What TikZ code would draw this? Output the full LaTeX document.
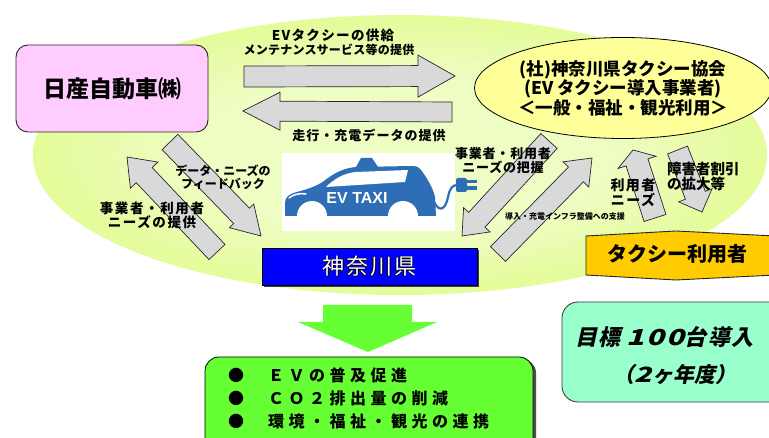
\documentclass[tikz,border=0pt]{standalone}
\usepackage{fontspec}
\setmainfont{Noto Sans CJK JP}
\newfontfamily\evfont{Liberation Sans}
\newfontfamily\jpslant{Noto Sans CJK JP}[FakeSlant=0.22]
\usetikzlibrary{calc,shadows,shapes.geometric}

\definecolor{limeout}{RGB}{216,250,100}
\definecolor{limein}{RGB}{238,253,196}
\definecolor{pinkbox}{RGB}{255,204,255}
\definecolor{ellyellow}{RGB}{255,255,153}
\definecolor{arrowgray}{RGB}{217,217,217}
\definecolor{carblue}{RGB}{46,110,182}
\definecolor{prefblue}{RGB}{0,0,255}
\definecolor{useryellow}{RGB}{255,204,0}
\definecolor{brightgreen}{RGB}{102,255,51}
\definecolor{mint}{RGB}{153,255,204}

\pgfdeclareradialshading{fieldshade}{\pgfpoint{0bp}{0bp}}{color(0bp)=(limein); color(14bp)=(limein); color(38bp)=(limeout); color(50bp)=(limeout)}

% bold Japanese at a given size / baseline skip
\newcommand\jpb[2]{\fontsize{#1}{#2}\selectfont\bfseries}
% tracking in percent of the font size
\newcommand\spaced[1]{\addfontfeature{LetterSpace=#1}}
% white lettering with a thin black rim
\newcommand\outlinedtext[1]{{\leavevmode
  \rlap{\color{black}\kern-0.7pt#1}\rlap{\color{black}\kern0.7pt#1}%
  \rlap{\color{black}\raisebox{0.7pt}{#1}}\rlap{\color{black}\raisebox{-0.7pt}{#1}}%
  \color{white}#1}}

\tikzset{
  grayarrow/.style={fill=arrowgray, draw=black!85, line width=0.7pt, line join=miter},
  lbl/.style={inner sep=0pt, align=center},
}

% block arrow: tail, tip, body half width, head half width, head length
\newcommand\blockarrow[5]{%
  \coordinate (ba-base) at ($(#2)!#5!(#1)$);
  \draw[grayarrow] ($(#1)!#3!90:(#2)$) -- ($(ba-base)!#3!90:(#2)$)
    -- ($(ba-base)!#4!90:(#2)$) -- (#2) -- ($(ba-base)!#4!-90:(#2)$)
    -- ($(ba-base)!#3!-90:(#2)$) -- ($(#1)!#3!-90:(#2)$) -- cycle;}

\begin{document}
\begin{tikzpicture}[x=1pt,y=-1pt]
\useasboundingbox (0,0) rectangle (769,438);
\clip (0,0) rectangle (769,438);
\fill[white] (0,0) rectangle (769,438);

% lime field behind the partners
\node[ellipse, minimum width=734pt, minimum height=280pt, shading=fieldshade, inner sep=0pt] (field) at (400,155) {};

% Nissan
\node[draw=black!85, line width=0.9pt, fill=pinkbox, rounded corners=12pt,
      minimum width=192pt, minimum height=87pt] (maker) at (112,88.5)
      {\jpb{23}{23}日産自動車㈱};

% taxi association
\node[ellipse, draw=black, line width=0.8pt, fill=ellyellow, minimum width=282pt,
      minimum height=101pt, inner sep=0pt, align=center, font={\jpb{17.5}{19.5}}] (assoc) at (623,88)
      {(社)神奈川県タクシー協会\\(EV タクシー導入事業者)\\＜一般・福祉・観光利用＞};

% arrow end points
\coordinate (r1t) at (244,76.5);  \coordinate (r1h) at (455,76);
\coordinate (l1t) at (452,112);   \coordinate (l1h) at (243,111);
\coordinate (at) at (217,252);    \coordinate (ah) at (127,157);
\coordinate (bt) at (170,142);    \coordinate (bh) at (261,236);
\coordinate (ct) at (549,141);    \coordinate (ch) at (462,236);
\coordinate (dt) at (498,254);    \coordinate (dh) at (592,158);
\coordinate (et) at (655,218);    \coordinate (eh) at (633,150);
\coordinate (ft) at (677.5,150);  \coordinate (fh) at (702,212);

\blockarrow{r1t}{r1h}{10.5pt}{21pt}{37pt}
\blockarrow{l1t}{l1h}{10pt}{19pt}{37pt}
\blockarrow{at}{ah}{11pt}{19pt}{25pt}
\blockarrow{bt}{bh}{11pt}{17pt}{28pt}
\blockarrow{ct}{ch}{11pt}{18pt}{22pt}
\blockarrow{dt}{dh}{10.5pt}{18pt}{23pt}
\blockarrow{et}{eh}{11.5pt}{20pt}{13pt}
\blockarrow{ft}{fh}{10.7pt}{18pt}{18pt}

% EV taxi emblem
\fill[white] (282,153) rectangle (455,231);
\fill[carblue] (285,216) -- (285,203)
  .. controls (285,197) and (289,194) .. (297,192)
  .. controls (308,189) and (317,186) .. (324,181)
  .. controls (334,173) and (344,168) .. (356,167)
  -- (412,166) .. controls (416,166) and (419,167) .. (421,170)
  .. controls (427,178) and (433,188) .. (435,197)
  -- (436,216) -- cycle;
\fill[carblue] (356,167) -- (361,158) -- (372,158) -- (378,167) -- cycle;
\fill[white] (326,187) .. controls (334,179) and (344,173) .. (356,172) -- (408,170) -- (405,182) -- cycle;
\fill[white] (312,216) circle [radius=15];
\fill[white] (403,216) circle [radius=15];
\draw[white, line width=1.5pt, line cap=round] (289,198) .. controls (294,194) and (300,193) .. (306,194);
\draw[carblue, line width=2.2pt] (434,202) .. controls (440,214) and (446,208) .. (448,197)
  .. controls (450,188) and (452,185) .. (458,185);
\fill[carblue, rounded corners=2pt] (456,178) rectangle (467,192);
\fill[carblue] (467,180) rectangle (477,183.5);
\fill[carblue] (467,186.5) rectangle (477,190);
\node[font=\evfont\bfseries\fontsize{16}{16}\selectfont, text=white, inner sep=0pt] (evtaxi) at (357,198) {EV TAXI};

% Kanagawa Prefecture
\node[draw=black, line width=0.8pt, fill=prefblue, minimum width=215pt, minimum height=37pt,
      drop shadow={shadow xshift=2pt, shadow yshift=-2pt, fill=black!75, opacity=1}] (pref) at (369.5,266.5)
      {\fontsize{22}{22}\selectfont\spaced{8}\outlinedtext{神奈川県}};

% taxi users
\fill[useryellow, draw=black!85, line width=0.9pt] (586,236) -- (676,231) -- (775,236) -- (775,275) -- (676,280) -- (586,275) -- cycle;
\node[lbl, font={\jpb{20}{20}}] (users) at (677,254) {タクシー利用者};

% outcome
\fill[brightgreen] (323,305) -- (412,305) -- (412,322) -- (437,322) -- (368,352) -- (298,322) -- (323,322) -- cycle;
\node[draw=black, line width=0.8pt, fill=brightgreen, rounded corners=14pt, minimum width=328pt,
      minimum height=100pt, drop shadow={shadow xshift=3pt, shadow yshift=-2pt, fill=black!70, opacity=1}]
      (goals) at (369,407) {};
\foreach \i/\y/\t in {1/375/ＥＶの普及促進, 2/398/ＣＯ２排出量の削減, 3/421/環境・福祉・観光の連携}{
  \node[lbl, font={\jpb{16}{16}}] (gb\i) at (236,\y) {●};
  \node[lbl, anchor=west, font={\jpb{16}{16}\spaced{28}}] (gt\i) at (268,\y) {\t};
}

% target
\node[draw=black!80, line width=0.8pt, fill=mint, rounded corners=16pt, minimum width=225pt,
      minimum height=100pt] (target) at (674.5,352) {};
\node[lbl, anchor=west, font={\jpslant\jpb{22}{22}\spaced{6}}] (t1) at (575,337) {目標 \scalebox{1.35}[1]{100}台導入};
\node[lbl, font={\jpslant\jpb{21}{21}}] (t2) at (675,375) {（\scalebox{1.35}[1]{2}ヶ年度）};

% arrow captions
\node[lbl, font={\jpb{13.5}{14}\spaced{10}}] (tx1) at (333,35) {EVタクシーの供給};
\node[lbl, font={\jpb{12}{13}\spaced{2}}] (tx2) at (329,50) {メンテナンスサービス等の提供};
\node[lbl, font={\jpb{13}{14}\spaced{8}}] (run) at (369,135) {走行・充電データの提供};
\node[lbl, font={\jpb{12}{13}}] (fb) at (223,177.5) {データ・ニーズの\\フィードバック};
\node[lbl, font={\jpb{13.5}{13}\spaced{12}}] (needl) at (152,215.5) {事業者・利用者\\ニーズの提供};
\node[lbl, font={\jpb{13}{14}\spaced{6}}] (needr) at (503,161) {事業者・利用者\\ニーズの把握};
\node[lbl, font={\jpb{8}{8}}] (infra) at (565,216) {導入・充電インフラ整備への支援};
\node[lbl, font={\jpb{14}{12}\spaced{10}}] (userneed) at (633,192.5) {利用者\\ニーズ};
\node[lbl, anchor=west, align=left, font={\jpb{14.5}{13}}] (disc) at (667,176.5) {障害者割引\\の拡大等};
\end{tikzpicture}
\end{document}
